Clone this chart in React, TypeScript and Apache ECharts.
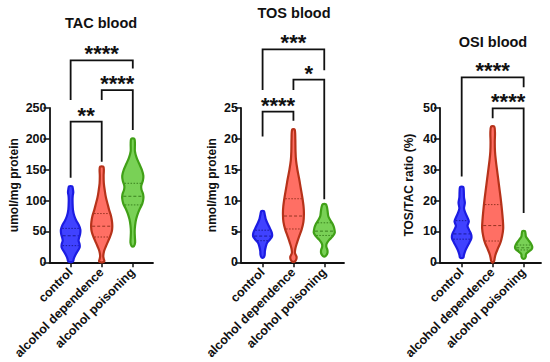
import React, { useEffect, useRef } from 'react';
import * as echarts from 'echarts';

const categories = ['control', 'alcohol dependence', 'alcohol poisoning'];
const panelTitles = ['TAC blood', 'TOS blood', 'OSI blood'];
const yNames = ['umol/mg protein', 'nmol/mg protein', 'TOS/TAC ratio (%)'];
const yMax = [250, 25, 50];
const yInterval = [50, 5, 10];

// violin profiles: [value, relative half-width]
const tacControl = [[123, 0.15], [118, 0.22], [113, 0.25], [108, 0.2], [100, 0.18], [85, 0.22], [75, 0.35], [67, 0.55], [60, 0.78], [53, 0.92], [46, 0.9], [40, 0.8], [35, 0.75], [29, 0.85], [24, 0.85], [18, 0.65], [12, 0.45], [6, 0.3], [2, 0.25], [0.5, 0.12]];
const tacDependence = [[155, 0.15], [150, 0.2], [140, 0.18], [128, 0.2], [115, 0.3], [105, 0.4], [95, 0.55], [85, 0.7], [75, 0.88], [65, 0.98], [57, 1.0], [50, 0.95], [42, 0.8], [34, 0.6], [26, 0.4], [18, 0.22], [10, 0.15], [5, 0.2], [2, 0.25], [0, 0.1]];
const tacPoisoning = [[200, 0.15], [192, 0.2], [180, 0.2], [170, 0.35], [160, 0.6], [150, 0.85], [140, 1.0], [132, 0.95], [124, 0.8], [118, 0.82], [110, 0.98], [103, 1.0], [95, 0.9], [88, 0.7], [80, 0.5], [70, 0.32], [60, 0.22], [50, 0.18], [40, 0.2], [32, 0.22], [26, 0.1]];

const tosControl = [[8.3, 0.12], [7.8, 0.2], [7, 0.3], [6.2, 0.5], [5.5, 0.7], [4.8, 0.88], [4.2, 0.9], [3.7, 0.7], [3.2, 0.45], [2.5, 0.3], [1.8, 0.22], [1.2, 0.2], [0.8, 0.1]];
const tosDependence = [[21.5, 0.12], [20, 0.18], [18, 0.2], [16.5, 0.25], [15, 0.38], [13.5, 0.55], [12, 0.7], [10.5, 0.85], [9, 0.97], [7.8, 1.0], [6.5, 0.95], [5.3, 0.78], [4.2, 0.55], [3.2, 0.35], [2.2, 0.18], [1.5, 0.15], [0.9, 0.3], [0.4, 0.25], [0.1, 0.1]];
const tosPoisoning = [[9.4, 0.15], [9, 0.25], [8.3, 0.32], [7.5, 0.38], [6.9, 0.55], [6.2, 0.8], [5.5, 0.95], [4.8, 1.0], [4.2, 0.8], [3.6, 0.45], [3, 0.22], [2.5, 0.2], [2, 0.3], [1.5, 0.3], [1, 0.12]];

const osiControl = [[24.4, 0.15], [23, 0.2], [21, 0.22], [19.3, 0.3], [17.5, 0.22], [16, 0.35], [14.5, 0.55], [13.2, 0.68], [11.8, 0.55], [10.5, 0.7], [9, 0.9], [7.8, 0.92], [6.5, 0.75], [5.2, 0.55], [3.8, 0.35], [2.5, 0.22], [1.5, 0.15]];
const osiDependence = [[44, 0.15], [42, 0.22], [39, 0.2], [36, 0.22], [33, 0.3], [29, 0.45], [25, 0.6], [21, 0.75], [17, 0.88], [13.5, 0.97], [11, 1.0], [8.5, 0.9], [6.5, 0.75], [4.5, 0.5], [2.8, 0.3], [1.5, 0.2], [0.5, 0.15], [0, 0.05]];
const osiPoisoning = [[10.1, 0.12], [9.2, 0.18], [8.3, 0.22], [7.2, 0.45], [6, 0.7], [5, 0.82], [4.2, 0.75], [3.4, 0.45], [2.6, 0.22], [1.8, 0.2], [1.2, 0.1]];

// quartiles: [Q1, median, Q3]
const tacQuartiles = [[27, 43, 55], [41, 58.5, 79], [93, 107, 128]];
const tosQuartiles = [[3.5, 4.25, 5.2], [5.4, 7.5, 10.3], [4.35, 5.05, 6.4]];
const osiQuartiles = [[7.5, 9.2, 13.5], [6.9, 11.9, 18.7], [4, 4.7, 5.6]];

// significance brackets: [group A, group B, bracket level, left leg end, right leg end]
const tacBrackets = [[0, 2, 327, 263, 314], [1, 2, 279, 263, 214.5], [0, 1, 228, 137, 163]];
const tacStars = ['****', '****', '**'];
const tosBrackets = [[0, 2, 34.5, 27.9, 31.1], [1, 2, 29.6, 27.9, 10.2], [0, 1, 24.4, 20.4, 22.95]];
const tosStars = ['***', '*', '****'];
const osiBrackets = [[0, 2, 59.9, 27.8, 56.7], [1, 2, 49.9, 46.7, 16]];
const osiStars = ['****', '****'];

const FONT = "'Liberation Sans', Arial, Helvetica, sans-serif";
const fills = ['#4042ff', '#ff6f64', '#79d156'];
const strokes = ['#1c1ce2', '#b6321a', '#40a017'];
const qColors = ['#12127f', '#7a2410', '#2a6e10'];

const panelLayout = [
  { left: 49.5, width: 103.5, xMin: -0.68, xMax: 2.65, nameGap: 30, title: [101, 22.7] },
  { left: 241, width: 103, xMin: -0.7, xMax: 2.64, nameGap: 22.7, title: [294, 12.7] },
  { left: 440, width: 101, xMin: -0.7, xMax: 2.56, nameGap: 25, title: [493, 41.7] },
];

function halfAt(prof: number[][], v: number): number {
  for (let k = 0; k < prof.length - 1; k++) {
    const [v1, w1] = prof[k];
    const [v2, w2] = prof[k + 1];
    if (v <= v1 && v >= v2) {
      const t = (v1 - v) / (v1 - v2 || 1);
      return w1 + (w2 - w1) * t;
    }
  }
  return 0;
}

function violinRender(profiles: number[][][], quartiles: number[][]) {
  return (params: any, api: any) => {
    const i = params.dataIndex;
    const prof = profiles[i];
    const unitPx = api.size([1, 0])[0];
    const maxHalf = unitPx * 0.34;
    const right = prof.map(([v, w]) => {
      const p = api.coord([i, v]);
      return [p[0] + w * maxHalf, p[1]];
    });
    const left = prof
      .slice()
      .reverse()
      .map(([v, w]) => {
        const p = api.coord([i, v]);
        return [p[0] - w * maxHalf, p[1]];
      });
    const children: any[] = [
      {
        type: 'polygon',
        shape: { points: right.concat(left), smooth: 0.3 },
        style: { fill: fills[i], stroke: strokes[i], lineWidth: 2.2, lineJoin: 'round' },
      },
    ];
    quartiles[i].forEach((q, k) => {
      const p = api.coord([i, q]);
      const hw = halfAt(prof, q) * maxHalf - 1;
      children.push({
        type: 'line',
        shape: { x1: p[0] - hw, y1: p[1], x2: p[0] + hw, y2: p[1] },
        style: {
          stroke: qColors[i],
          lineWidth: 1,
          opacity: 0.8,
          lineDash: k === 1 ? [3, 2] : [1.5, 1.5],
        },
      });
    });
    return { type: 'group', children };
  };
}

function bracketRender(stars: string[]) {
  return (params: any, api: any) => {
    const x1 = api.value(0);
    const x2 = api.value(1);
    const top = api.value(2);
    const lb = api.value(3);
    const rb = api.value(4);
    const pL = api.coord([x1, top]);
    const pR = api.coord([x2, top]);
    const pLB = api.coord([x1, lb]);
    const pRB = api.coord([x2, rb]);
    return {
      type: 'group',
      children: [
        {
          type: 'polyline',
          shape: { points: [pLB, pL, pR, pRB] },
          style: { stroke: '#111', lineWidth: 1.8, fill: null },
        },
        {
          type: 'text',
          style: {
            text: stars[params.dataIndex],
            x: (pL[0] + pR[0]) / 2,
            y: pL[1] - 6.5,
            align: 'center',
            verticalAlign: 'middle',
            textAlign: 'center',
            textVerticalAlign: 'middle',
            font: `bold 22px ${FONT}`,
            fill: '#111',
          },
        },
      ],
    };
  };
}

export default function App() {
  const ref = useRef<HTMLDivElement>(null);
  useEffect(() => {
    if (!ref.current) return;
    const chart = echarts.init(ref.current, null, { renderer: 'svg' });
    const profiles = [
      [tacControl, tacDependence, tacPoisoning],
      [tosControl, tosDependence, tosPoisoning],
      [osiControl, osiDependence, osiPoisoning],
    ];
    const quartiles = [tacQuartiles, tosQuartiles, osiQuartiles];
    const brackets = [tacBrackets, tosBrackets, osiBrackets];
    const stars = [tacStars, tosStars, osiStars];

    const grid = panelLayout.map((p) => ({ left: p.left, width: p.width, top: 108, height: 155 }));
    const xAxis = panelLayout.map((p, gi) => ({
      type: 'value',
      gridIndex: gi,
      min: p.xMin,
      max: p.xMax,
      splitLine: { show: false },
      axisLine: { show: true, onZero: false, lineStyle: { color: '#111', width: 1.8 } },
      axisTick: { show: true, length: 5, customValues: [0, 1, 2], lineStyle: { color: '#111', width: 1.5 } },
      axisLabel: {
        customValues: [0, 1, 2],
        formatter: (v: number) => categories[Math.round(v)] ?? '',
        rotate: 45,
        margin: 8,
        color: '#111',
        fontWeight: 'bold',
        fontSize: 12.5,
        fontFamily: FONT,
      },
    }));
    const yAxis = panelLayout.map((p, gi) => ({
      type: 'value',
      gridIndex: gi,
      min: 0,
      max: yMax[gi],
      interval: yInterval[gi],
      name: yNames[gi],
      nameLocation: 'middle',
      nameGap: p.nameGap,
      nameRotate: 90,
      nameMoveOverlap: false,
      nameTextStyle: { color: '#111', fontWeight: 'bold', fontSize: 12, fontFamily: FONT },
      splitLine: { show: false },
      axisLine: { show: true, onZero: false, lineStyle: { color: '#111', width: 1.8 } },
      axisTick: { show: true, length: 6, lineStyle: { color: '#111', width: 1.5 } },
      axisLabel: { margin: 3, color: '#111', fontWeight: 'bold', fontSize: 12.5, fontFamily: FONT },
    }));
    const series: any[] = [];
    for (let gi = 0; gi < 3; gi++) {
      series.push({
        type: 'custom',
        xAxisIndex: gi,
        yAxisIndex: gi,
        renderItem: violinRender(profiles[gi], quartiles[gi]),
        encode: { x: 0, y: 1 },
        data: [[0, 0], [1, 0], [2, 0]],
        clip: false,
        silent: true,
      });
      series.push({
        type: 'custom',
        xAxisIndex: gi,
        yAxisIndex: gi,
        renderItem: bracketRender(stars[gi]),
        encode: { x: 0, y: 2 },
        data: brackets[gi],
        clip: false,
        silent: true,
      });
    }
    const graphic = panelLayout.map((p, gi) => ({
      type: 'text',
      x: p.title[0],
      y: p.title[1],
      style: {
        text: panelTitles[gi],
        align: 'center',
        verticalAlign: 'middle',
        textAlign: 'center',
        textVerticalAlign: 'middle',
        font: `bold 14.5px ${FONT}`,
        fill: '#111',
      },
    }));
    chart.setOption({
      animation: false,
      backgroundColor: '#ffffff',
      grid,
      xAxis,
      yAxis,
      series,
      graphic,
    });
    return () => chart.dispose();
  }, []);
  return <div ref={ref} style={{ width: 550, height: 362, position: 'absolute', left: 0, top: 0 }} />;
}
